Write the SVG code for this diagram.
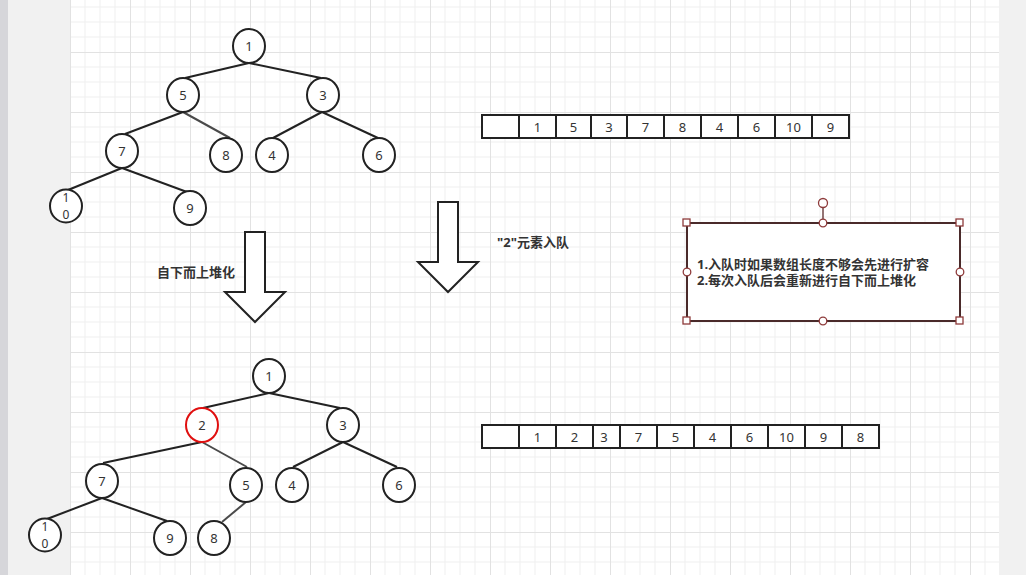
<svg xmlns="http://www.w3.org/2000/svg" width="1026" height="575" viewBox="0 0 1026 575">
<defs>
<pattern id="grid" x="70" y="-8" width="60" height="60" patternUnits="userSpaceOnUse">
<path d="M15 0V60M30 0V60M45 0V60M0 15H60M0 30H60M0 45H60" stroke="#efefef" stroke-width="1" fill="none"/>
<path d="M0.5 0V60M0 0.5H60" stroke="#e2e2e2" stroke-width="1" fill="none"/>
</pattern>
<style>
.n{fill:#fff;stroke:#222;stroke-width:2}
.t{font-family:"Noto Sans","Noto Sans CJK SC",sans-serif;font-size:13px;fill:#333;text-anchor:middle;dominant-baseline:central}
.s{font-size:12px}
.e{stroke:#222;stroke-width:2;fill:none}
.g{stroke:#4a4a4a;stroke-width:2;fill:none}
.cell{fill:#fff;stroke:#222;stroke-width:2}
.lb{font-family:"Noto Sans","Noto Sans CJK SC",sans-serif;font-size:13px;fill:#333;font-weight:bold}
.arr{fill:#fff;stroke:#222;stroke-width:2}
.h{fill:#fff;stroke:#8e3b3b;stroke-width:1.3}
</style>
</defs>
<rect x="0" y="0" width="1026" height="575" fill="#f1f1f1"/>
<rect x="0" y="0" width="8" height="575" fill="#d6d6da"/>
<rect x="70" y="0" width="929" height="575" fill="#fff"/>
<rect x="70" y="0" width="929" height="575" fill="url(#grid)"/>

<g id="connectors">
<line class="e" x1="249" y1="63" x2="185" y2="78"/>
<line class="e" x1="249" y1="63" x2="321" y2="78"/>
<line class="e" x1="183" y1="112" x2="125" y2="134"/>
<line class="g" x1="183" y1="112" x2="230" y2="138"/>
<line class="e" x1="322" y1="112" x2="273" y2="138"/>
<line class="e" x1="322" y1="112" x2="378" y2="138"/>
<line class="e" x1="122" y1="168" x2="68" y2="190"/>
<line class="e" x1="122" y1="168" x2="187" y2="192"/>

<line class="e" x1="269" y1="393" x2="203" y2="408"/>
<line class="e" x1="269" y1="393" x2="340" y2="408"/>
<line class="e" x1="202" y1="442" x2="103" y2="463"/>
<line class="g" x1="202" y1="442" x2="247" y2="467"/>
<line class="e" x1="343" y1="442" x2="293" y2="467"/>
<line class="e" x1="343" y1="442" x2="397" y2="467"/>
<line class="e" x1="102" y1="498" x2="47" y2="519"/>
<line class="e" x1="102" y1="498" x2="167" y2="521"/>
<line class="g" x1="246" y1="502" x2="222" y2="522"/>
</g>

<g id="tree1-n1"><ellipse class="n" cx="249" cy="46" rx="16" ry="17"/><text class="t" x="249" y="46">1</text></g>
<g id="tree1-n5"><ellipse class="n" cx="183" cy="95" rx="16" ry="17"/><text class="t" x="183" y="95">5</text></g>
<g id="tree1-n3"><ellipse class="n" cx="323" cy="95" rx="16" ry="17"/><text class="t" x="323" y="95">3</text></g>
<g id="tree1-n7"><ellipse class="n" cx="122" cy="151" rx="16" ry="17"/><text class="t" x="122" y="151">7</text></g>
<g id="tree1-n8"><ellipse class="n" cx="226" cy="155" rx="16" ry="17"/><text class="t" x="226" y="155">8</text></g>
<g id="tree1-n4"><ellipse class="n" cx="272" cy="155" rx="16" ry="17"/><text class="t" x="272" y="155">4</text></g>
<g id="tree1-n6"><ellipse class="n" cx="379" cy="155" rx="16" ry="17"/><text class="t" x="379" y="155">6</text></g>
<g id="tree1-n10"><ellipse class="n" cx="66" cy="206" rx="16" ry="16.5"/><text class="t s" x="66" y="197">1</text><text class="t s" x="66" y="214">0</text></g>
<g id="tree1-n9"><ellipse class="n" cx="190" cy="208" rx="16" ry="17"/><text class="t" x="190" y="208">9</text></g>

<g id="array1">
<rect class="cell" x="482" y="115" width="367" height="23"/>
<path class="e" d="M519 115V138M556 115V138M591 115V138M627 115V138M664 115V138M701 115V138M738 115V138M775 115V138M812 115V138"/>
<text class="t" x="537.5" y="127">1</text>
<text class="t" x="573.5" y="127">5</text>
<text class="t" x="609" y="127">3</text>
<text class="t" x="645.5" y="127">7</text>
<text class="t" x="682.5" y="127">8</text>
<text class="t" x="719.5" y="127">4</text>
<text class="t" x="756.5" y="127">6</text>
<text class="t" x="793.5" y="127">10</text>
<text class="t" x="830.5" y="127">9</text>
</g>

<g id="arrow-left"><polygon class="arr" points="245,232 265,232 265,292 285,292 255,322 225,292 245,292"/></g>
<g id="arrow-right"><polygon class="arr" points="438,202 458,202 458,262 478,262 448,292 418,262 438,262"/></g>
<g id="label-heapify"><text class="lb" x="157" y="277">自下而上堆化</text></g>
<g id="label-enqueue"><text class="lb" x="497" y="247">"2"元素入队</text></g>

<g id="note">
<rect x="687" y="223" width="273" height="98" fill="#fff" stroke="#4a2a2a" stroke-width="2"/>
<text class="lb" x="697" y="269">1.入队时如果数组长度不够会先进行扩容</text>
<text class="lb" x="697" y="285">2.每次入队后会重新进行自下而上堆化</text>
<line x1="823" y1="208" x2="823" y2="223" stroke="#5a2a2a" stroke-width="1.3"/>
<circle class="h" cx="823" cy="203" r="4.5"/>
<circle class="h" cx="823" cy="223" r="3.8"/>
<circle class="h" cx="823" cy="321" r="3.8"/>
<circle class="h" cx="687" cy="272" r="3.8"/>
<circle class="h" cx="960" cy="272" r="3.8"/>
<rect class="h" x="683" y="219" width="7" height="7"/>
<rect class="h" x="956" y="219" width="7" height="7"/>
<rect class="h" x="683" y="317" width="7" height="7"/>
<rect class="h" x="956" y="317" width="7" height="7"/>
</g>

<g id="tree2-n1"><ellipse class="n" cx="269" cy="376" rx="16" ry="17"/><text class="t" x="269" y="376">1</text></g>
<g id="tree2-n2"><ellipse cx="202" cy="425" rx="16" ry="17" fill="#fff" stroke="#e01010" stroke-width="2"/><text class="t" x="202" y="425">2</text></g>
<g id="tree2-n3"><ellipse class="n" cx="343" cy="425" rx="16" ry="17"/><text class="t" x="343" y="425">3</text></g>
<g id="tree2-n7"><ellipse class="n" cx="102" cy="481" rx="16" ry="17"/><text class="t" x="102" y="481">7</text></g>
<g id="tree2-n5"><ellipse class="n" cx="246" cy="485" rx="16" ry="17"/><text class="t" x="246" y="485">5</text></g>
<g id="tree2-n4"><ellipse class="n" cx="292" cy="485" rx="16" ry="17"/><text class="t" x="292" y="485">4</text></g>
<g id="tree2-n6"><ellipse class="n" cx="399" cy="485" rx="16" ry="17"/><text class="t" x="399" y="485">6</text></g>
<g id="tree2-n10"><ellipse class="n" cx="45" cy="535" rx="16" ry="16.5"/><text class="t s" x="45" y="526">1</text><text class="t s" x="45" y="543">0</text></g>
<g id="tree2-n9"><ellipse class="n" cx="170" cy="538" rx="16" ry="17"/><text class="t" x="170" y="538">9</text></g>
<g id="tree2-n8"><ellipse class="n" cx="214" cy="538" rx="16" ry="17"/><text class="t" x="214" y="538">8</text></g>

<g id="array2">
<rect class="cell" x="482" y="425" width="397" height="23"/>
<path class="e" d="M519 425V448M556 425V448M593 425V448M620 425V448M657 425V448M694 425V448M731 425V448M768 425V448M805 425V448M842 425V448"/>
<text class="t" x="537.5" y="437">1</text>
<text class="t" x="574.5" y="437">2</text>
<text class="t" x="604" y="437">3</text>
<text class="t" x="638.5" y="437">7</text>
<text class="t" x="675.5" y="437">5</text>
<text class="t" x="712.5" y="437">4</text>
<text class="t" x="749.5" y="437">6</text>
<text class="t" x="786.5" y="437">10</text>
<text class="t" x="823.5" y="437">9</text>
<text class="t" x="860.5" y="437">8</text>
</g>
</svg>
